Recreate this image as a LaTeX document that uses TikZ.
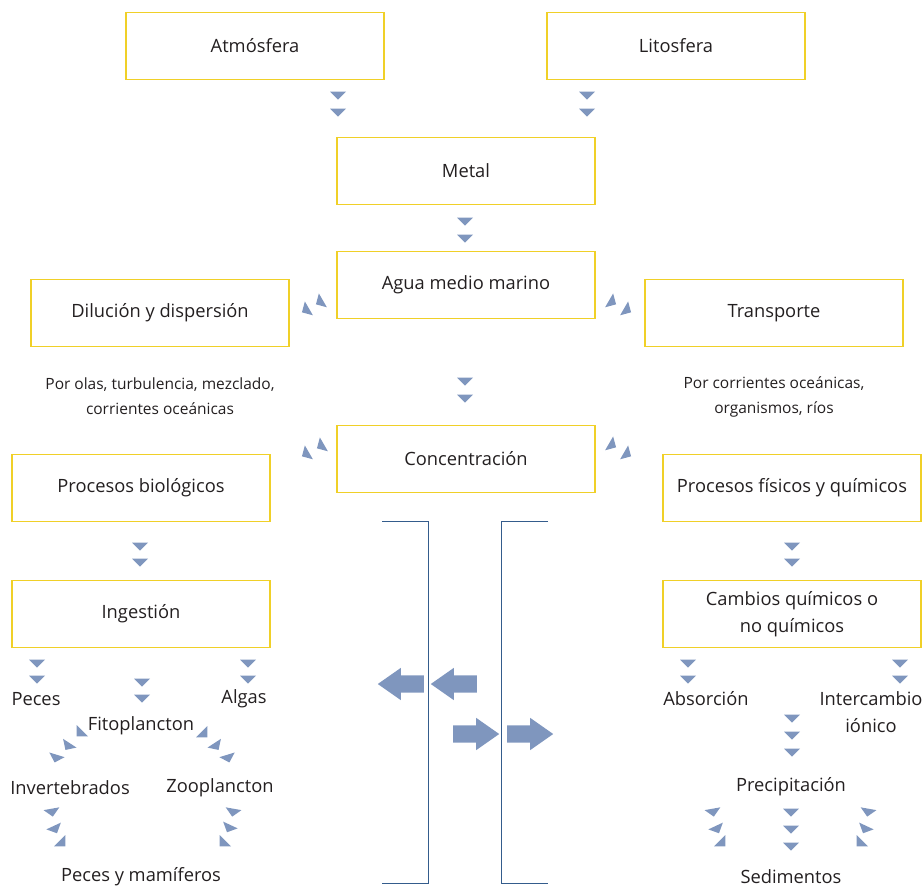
\documentclass[tikz,border=0pt]{standalone}
\usepackage{fontspec}
\setmainfont{Open Sans}
\usetikzlibrary{shapes.geometric, shapes.arrows, positioning}
\definecolor{boxyellow}{RGB}{240,208,40}
\definecolor{wedgeblue}{RGB}{127,150,190}
\definecolor{bracketblue}{RGB}{52,92,140}
\definecolor{inkgray}{RGB}{35,31,32}

\begin{document}
\begin{tikzpicture}[x=1pt, y=-1pt, text=inkgray]
\tikzstyle{box} = [rectangle, minimum width=258pt, minimum height=67pt, text centered, align=center, draw=boxyellow, line width=1.2pt, font=\fontsize{18.3}{27}\selectfont]
\tikzstyle{term} = [align=center, inner sep=0pt, font=\fontsize{18.3}{27}\selectfont]
\tikzstyle{remark} = [align=center, inner sep=0pt, font=\fontsize{15.5}{25}\selectfont]
\tikzstyle{bigarrow} = [single arrow, fill=wedgeblue, inner xsep=0pt, inner ysep=8.5pt, single arrow head extend=7.5pt, single arrow tip angle=70, minimum height=46pt, outer sep=0pt]
\tikzstyle{bracket} = [draw=bracketblue, line width=1pt]
\tikzset{wedge/.style={isosceles triangle, isosceles triangle stretches, minimum width=16pt, minimum height=8pt, inner sep=0pt, outer sep=0pt, fill=wedgeblue, rotate=#1}}

\useasboundingbox (0,0) rectangle (924,888);

% boxes
\node (atmos) [box] at (255,46) {Atmósfera};
\node (litos) [box] at (676,46) {Litosfera};
\node (metal) [box] at (466,171) {Metal};
\node (agua) [box] at (466,285) {Agua medio marino};
\node (dilucion) [box] at (160,313) {Dilución y dispersión};
\node (transp) [box] at (774,313) {Transporte};
\node (concen) [box] at (466,459) {Concentración};
\node (biolog) [box] at (141,488) {Procesos biológicos};
\node (fisquim) [box] at (792,488) {Procesos físicos y químicos};
\node (ingest) [box] at (141,614) {Ingestión};
\node (cambios) [box] at (792,614) {Cambios químicos o\\no químicos};

% notes
\node (dilnote) [remark] at (160,396) {Por olas, turbulencia, mezclado,\\corrientes oceánicas};
\node (trnote) [remark] at (774,397) {Por corrientes oceánicas,\\organismos, ríos};

% terms
\node (peces) [term] at (36,699) {Peces};
\node (algas) [term] at (244,699) {Algas};
\node (fito) [term] at (141,726) {Fitoplancton};
\node (invert) [term] at (70,788) {Invertebrados};
\node (zoo) [term] at (220,788) {Zooplancton};
\node (pecesmam) [term] at (141,877) {Peces y mamíferos};
\node (absor) [term] at (706,699) {Absorción};
\node (interc) [term] at (871,712) {Intercambio\\iónico};
\node (precip) [term] at (791,787) {Precipitación};
\node (sedim) [term] at (791,877) {Sedimentos};

% wedge chains
\foreach \y [count=\i] in {95,112} {
  \node (atm-\i) [wedge=-90] at (338,\y) {};
  \node (lit-\i) [wedge=-90] at (587,\y) {};
}
\foreach \y [count=\i] in {221,238} \node (met-\i) [wedge=-90] at (465,\y) {};
\foreach \y [count=\i] in {381,398} \node (agu-\i) [wedge=-90] at (465,\y) {};
\foreach \x/\y [count=\i] in {320/302, 306/310} \node (dil-\i) [wedge=210] at (\x,\y) {};
\foreach \x/\y [count=\i] in {612/302, 627/310} \node (tra-\i) [wedge=330] at (\x,\y) {};
\foreach \x/\y [count=\i] in {321/446, 306/454} \node (cbl-\i) [wedge=210] at (\x,\y) {};
\foreach \x/\y [count=\i] in {612/445, 627/454} \node (cfq-\i) [wedge=330] at (\x,\y) {};
\foreach \y [count=\i] in {546,562} {
  \node (bio-\i) [wedge=-90] at (140,\y) {};
  \node (fis-\i) [wedge=-90] at (792,\y) {};
}
\foreach \y [count=\i] in {663,679} {
  \node (pec-\i) [wedge=-90] at (37,\y) {};
  \node (alg-\i) [wedge=-90] at (248,\y) {};
  \node (abs-\i) [wedge=-90] at (688,\y) {};
  \node (int-\i) [wedge=-90] at (900,\y) {};
}
\foreach \y [count=\i] in {682,698} \node (fit-\i) [wedge=-90] at (142,\y) {};
\foreach \x/\y/\a [count=\i] in {80/733/225, 68/746/237, 56/758/253} \node (inv-\i) [wedge=\a] at (\x,\y) {};
\foreach \x/\y/\a [count=\i] in {204/734/315, 216/746/303, 228/758/287} \node (zoo-\i) [wedge=\a] at (\x,\y) {};
\foreach \x/\y/\a [count=\i] in {52/812/280, 55/829/295, 62/843/315} \node (ipm-\i) [wedge=\a] at (\x,\y) {};
\foreach \x/\y/\a [count=\i] in {233/812/260, 229/828/245, 223/843/225} \node (zpm-\i) [wedge=\a] at (\x,\y) {};
\foreach \y [count=\i] in {718,735,752} \node (pre-\i) [wedge=-90] at (792,\y) {};
\foreach \y [count=\i] in {812,829,846} \node (sed-\i) [wedge=-90] at (791,\y) {};
\foreach \x/\y/\a [count=\i] in {713/812/280, 717/829/295, 722/843/315} \node (sdl-\i) [wedge=\a] at (\x,\y) {};
\foreach \x/\y/\a [count=\i] in {868/812/260, 865/829/245, 860/843/225} \node (sdr-\i) [wedge=\a] at (\x,\y) {};

% brackets
\draw [bracket] (382,521) -- (428,521) -- (428,883) -- (382,883);
\draw [bracket] (548,521) -- (501,521) -- (501,883) -- (548,883);

% big arrows
\node (outl) [bigarrow, shape border rotate=180] at (407,684) {};
\node (inl) [bigarrow, shape border rotate=180] at (460,684) {};
\node (inr) [bigarrow] at (470,734) {};
\node (outr) [bigarrow] at (524,734) {};
\end{tikzpicture}
\end{document}
